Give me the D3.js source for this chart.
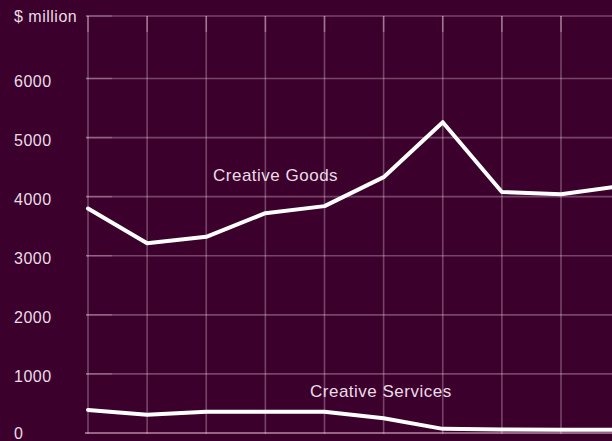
<!DOCTYPE html>
<html><head><meta charset="utf-8">
<script src="https://cdn.jsdelivr.net/npm/d3@7"></script>
<style>html,body{margin:0;padding:0;background:#3c002d;}svg{display:block;}</style>
</head><body>
<script>
const periods = [0,1,2,3,4,5,6,7,8,9];
const creativeGoods = [3800, 3210, 3320, 3720, 3840, 4330, 5260, 4080, 4040, 4180];
const creativeServices = [390, 310, 360, 360, 360, 250, 70, 60, 55, 55];
const yTicks = [0,1000,2000,3000,4000,5000,6000];
const yTickLabels = ["0","1000","2000","3000","4000","5000","6000"];
const unitLabel = "$ million";
const seriesNames = ["Creative Goods","Creative Services"];

const W=612,H=441;
const svg=d3.select("body").append("svg").attr("width",W).attr("height",H);
svg.append("rect").attr("width",W).attr("height",H).attr("fill","#3c002d");
const x=d3.scaleLinear().domain([0,8]).range([88,561]);
const y=d3.scaleLinear().domain([0,6000]).range([433,78.5]);
const yTop=16;
const grid="rgba(255,225,240,0.3)";
const g=svg.append("g");
g.selectAll(".hg").data(yTicks.slice(1).concat([y.invert(yTop)])).enter().append("line")
 .attr("x1",86).attr("x2",W).attr("y1",d=>y(d)).attr("y2",d=>y(d))
 .attr("stroke",grid).attr("stroke-width",1.6);
g.selectAll(".hb").data(yTicks.slice(1).concat([y.invert(yTop)])).enter().append("line")
 .attr("x1",86).attr("x2",112).attr("y1",d=>y(d)).attr("y2",d=>y(d))
 .attr("stroke","rgba(255,235,245,0.2)").attr("stroke-width",1.6);
g.selectAll(".vg").data(periods.slice(0,9)).enter().append("line")
 .attr("x1",d=>x(d)).attr("x2",d=>x(d)).attr("y1",yTop).attr("y2",y(0)+1)
 .attr("stroke",grid).attr("stroke-width",1.6);
g.selectAll(".vt").data(periods.slice(0,9)).enter().append("line")
 .attr("x1",d=>x(d)).attr("x2",d=>x(d)).attr("y1",yTop).attr("y2",yTop+16)
 .attr("stroke","rgba(255,240,250,0.3)").attr("stroke-width",1.6);
g.append("line").attr("x1",85).attr("x2",W).attr("y1",y(0)).attr("y2",y(0))
 .attr("stroke","rgba(255,225,240,0.45)").attr("stroke-width",2);
const font="'Liberation Sans', Arial, sans-serif";
const yl=svg.append("g").attr("font-family",font).attr("font-size",16).attr("letter-spacing",0.5).attr("fill","#e9dde5");
yl.selectAll("text").data(yTicks).enter().append("text")
 .attr("x",14).attr("y",(d)=>Math.min(y(d)+8.5,H-2)).text((d,i)=>yTickLabels[i]);
yl.append("text").attr("x",14).attr("y",yTop+6).text(unitLabel);
const line=d3.line().x((d,i)=>x(periods[i])).y(d=>y(d));
[creativeGoods,creativeServices].forEach(s=>{
 svg.append("path").attr("d",line(s)).attr("fill","none").attr("stroke","#ffffff")
  .attr("stroke-width",4).attr("stroke-linejoin","round").attr("stroke-linecap","round");
});
const lab=svg.append("g").attr("font-family",font).attr("font-size",17).attr("letter-spacing",0.5).attr("fill","#e9dde5");
lab.append("text").attr("x",213).attr("y",181).text(seriesNames[0]);
lab.append("text").attr("x",310).attr("y",397).text(seriesNames[1]);
</script>
</body></html>
